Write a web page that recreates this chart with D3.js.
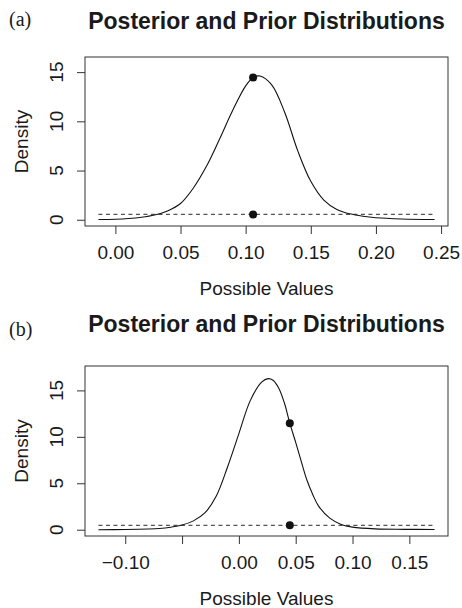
<!DOCTYPE html>
<html>
<head>
<meta charset="utf-8">
<script src="https://cdn.jsdelivr.net/npm/d3@7"></script>
<style>
  body { margin: 0; background: #fff; }
  text { font-family: "Liberation Sans", Arial, sans-serif; fill: #1a1a1a; }
</style>
</head>
<body>
<svg id="chart" width="462" height="608"></svg>
<script>
// panel (a): posterior density
const postA_x = [-0.013, 0.00, 0.01, 0.02, 0.03, 0.04, 0.05, 0.06, 0.07, 0.08,
  0.09, 0.10, 0.1057, 0.111, 0.12, 0.13, 0.14, 0.15, 0.16, 0.17,
  0.18, 0.19, 0.20, 0.22, 0.245];
const postA_y = [0.02, 0.05, 0.12, 0.25, 0.48, 0.9, 1.65, 3.25, 5.45, 8.2,
  11.1, 13.6, 14.46, 14.6, 13.7, 10.9, 7.0, 3.9, 2.0, 1.05,
  0.6, 0.35, 0.2, 0.08, 0.03];
const priorA_x = [-0.013, 0.245];
const priorA_y = [0.54, 0.54];
const pointA_x = 0.1057;
const pointA_y = [14.46, 0.54];
const ticksA = [0.00, 0.05, 0.10, 0.15, 0.20, 0.25];
const tickLabelsA = ["0.00", "0.05", "0.10", "0.15", "0.20", "0.25"];
const ylimA = [0, 15.9];

// panel (b)
const postB_x = [-0.1236, -0.10, -0.08, -0.07, -0.06, -0.05, -0.04, -0.03, -0.02, -0.01,
  0.00, 0.01, 0.02, 0.0258, 0.03, 0.035, 0.04, 0.0448, 0.05, 0.055,
  0.06, 0.065, 0.07, 0.08, 0.09, 0.10, 0.12, 0.145, 0.1722];
const postB_y = [0.0, 0.02, 0.07, 0.13, 0.27, 0.5, 0.95, 1.8, 3.6, 6.75,
  10.35, 13.9, 15.9, 16.27, 16.1, 15.27, 13.67, 11.47, 9.4, 7.3,
  5.3, 3.8, 2.57, 1.24, 0.57, 0.28, 0.09, 0.04, 0.03];
const priorB_x = [-0.1236, 0.1722];
const priorB_y = [0.47, 0.47];
const pointB_x = 0.0448;
const pointB_y = [11.47, 0.47];
const ticksB = [-0.10, -0.05, 0.00, 0.05, 0.10, 0.15];
const tickLabelsB = ["\u22120.10", "", "0.00", "0.05", "0.10", "0.15"];
const ylimB = [0, 16.95];

const yTicks = [0, 5, 10, 15];

const svg = d3.select("#chart");

function pad(ext) {
  // R style 4% axis extension
  const d = (ext[1] - ext[0]) * 0.04;
  return [ext[0] - d, ext[1] + d];
}

function drawPanel(opt) {
  const left = 85, right = 448;
  const top = opt.top, bottom = opt.bottom;

  const x = d3.scaleLinear().domain(pad(d3.extent(opt.px))).range([left, right]);
  const y = d3.scaleLinear().domain(pad(opt.ylim)).range([bottom, top]);

  const g = svg.append("g");

  // panel letter
  g.append("text")
    .attr("x", 9)
    .attr("y", opt.letterY)
    .style("font-family", "'Liberation Serif', 'Times New Roman', serif")
    .style("font-size", "20px")
    .text(opt.letter);

  // title
  g.append("text")
    .attr("x", (left + right) / 2)
    .attr("y", opt.titleY)
    .attr("text-anchor", "middle")
    .style("font-size", "23px")
    .style("font-weight", "bold")
    .text("Posterior and Prior Distributions");

  // x axis
  const xAxis = g.append("g")
    .attr("transform", `translate(0, ${bottom})`)
    .call(d3.axisBottom(x).tickValues(opt.ticks).tickSize(8)
      .tickFormat((d, i) => opt.labels[i]));
  xAxis.select(".domain").remove();
  xAxis.selectAll("line").attr("stroke", "#333");
  xAxis.selectAll("text")
    .attr("y", opt.tickLabelY - bottom).attr("dy", null)
    .style("font-size", "19px")
    .style("font-family", "'Liberation Sans', Arial, sans-serif")
    .attr("fill", "#1a1a1a");

  g.append("text")
    .attr("x", (left + right) / 2)
    .attr("y", opt.xlabY)
    .attr("text-anchor", "middle")
    .style("font-size", "19px")
    .text("Possible Values");

  // y axis with rotated labels
  const yAxis = g.append("g")
    .attr("transform", `translate(${left}, 0)`)
    .call(d3.axisLeft(y).tickValues(yTicks).tickSize(8).tickFormat(""));
  yAxis.select(".domain").remove();
  yAxis.selectAll("line").attr("stroke", "#333");

  g.selectAll("text.ylab")
    .data(yTicks)
    .join("text")
    .attr("class", "ylab")
    .attr("transform", d => `translate(63, ${y(d)}) rotate(-90)`)
    .attr("text-anchor", "middle")
    .style("font-size", "19px")
    .text(d => d);

  g.append("text")
    .attr("transform", `translate(28, ${(top + bottom) / 2}) rotate(-90)`)
    .attr("text-anchor", "middle")
    .style("font-size", "19px")
    .text("Density");

  // box
  g.append("rect")
    .attr("x", left).attr("y", top)
    .attr("width", right - left).attr("height", bottom - top)
    .attr("fill", "none")
    .attr("stroke", "#333")
    .attr("stroke-width", 1);

  const line = d3.line()
    .x(d => x(d[0]))
    .y(d => y(d[1]))
    .curve(d3.curveCatmullRom.alpha(0.5));

  // prior (dashed)
  g.append("path")
    .datum(d3.zip(opt.priorx, opt.priory))
    .attr("fill", "none")
    .attr("stroke", "#555")
    .attr("stroke-width", 1.3)
    .attr("stroke-dasharray", "4,3.5")
    .attr("d", d3.line().x(d => x(d[0])).y(d => y(d[1])));

  // posterior
  g.append("path")
    .datum(d3.zip(opt.px, opt.py))
    .attr("fill", "none")
    .attr("stroke", "#111")
    .attr("stroke-width", 1.1)
    .attr("d", line);

  g.selectAll("circle.pt")
    .data(opt.pointy)
    .join("circle")
    .attr("class", "pt")
    .attr("cx", x(opt.pointx))
    .attr("cy", d => y(d))
    .attr("r", 4)
    .attr("fill", "#111");
}

drawPanel({
  letter: "(a)", letterY: 26, titleY: 28.5,
  top: 57, bottom: 226, tickLabelY: 259, xlabY: 295,
  px: postA_x, py: postA_y, priorx: priorA_x, priory: priorA_y,
  pointx: pointA_x, pointy: pointA_y,
  ticks: ticksA, labels: tickLabelsA, ylim: ylimA
});

drawPanel({
  letter: "(b)", letterY: 336, titleY: 331.5,
  top: 366, bottom: 536, tickLabelY: 569, xlabY: 605,
  px: postB_x, py: postB_y, priorx: priorB_x, priory: priorB_y,
  pointx: pointB_x, pointy: pointB_y,
  ticks: ticksB, labels: tickLabelsB, ylim: ylimB
});
</script>
</body>
</html>
